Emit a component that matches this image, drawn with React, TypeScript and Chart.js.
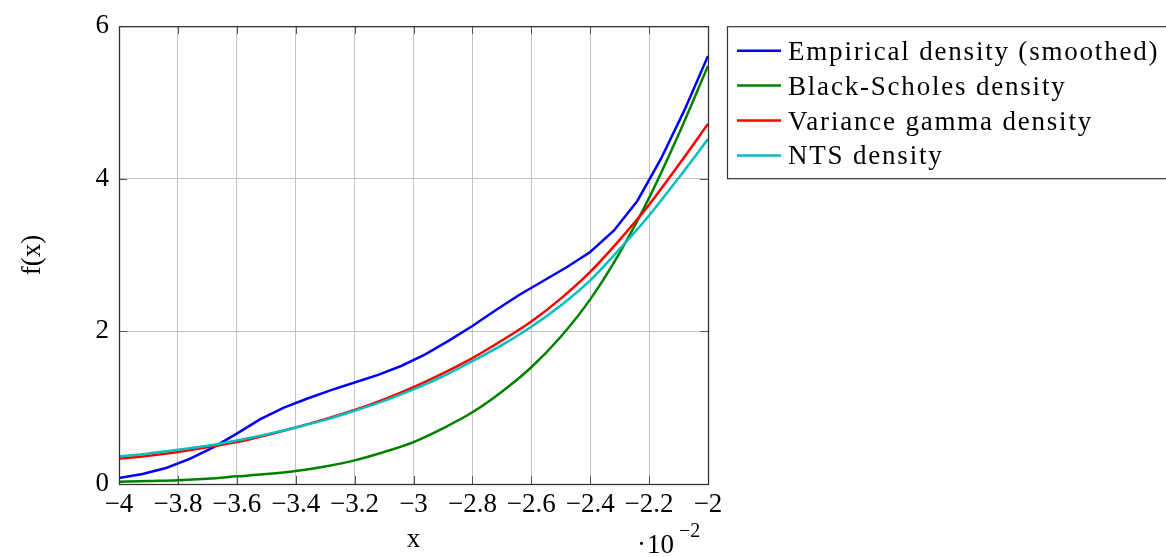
import React, { useEffect, useRef } from "react";
import { Chart, registerables } from "chart.js";

Chart.register(...registerables);

// x values are in units of 10^-2
const empiricalX = [
  -4.0, -3.92, -3.84, -3.76, -3.68, -3.6, -3.52, -3.44, -3.36, -3.28, -3.2, -3.12, -3.04,
  -2.96, -2.88, -2.8, -2.72, -2.64, -2.56, -2.48, -2.4, -2.32, -2.24, -2.16, -2.08, -2.0,
];
const empiricalY = [
  0.08, 0.13, 0.21, 0.33, 0.48, 0.66, 0.85, 1.0, 1.12, 1.23, 1.33, 1.43, 1.55,
  1.7, 1.88, 2.07, 2.28, 2.48, 2.66, 2.84, 3.04, 3.32, 3.71, 4.26, 4.9, 5.61,
];

const modelX = [
  -4.0, -3.9, -3.8, -3.7, -3.6, -3.5, -3.4, -3.3, -3.2, -3.1, -3.0,
  -2.9, -2.8, -2.7, -2.6, -2.5, -2.4, -2.3, -2.2, -2.1, -2.0,
];
const blackScholesY = [
  0.03, 0.04, 0.05, 0.07, 0.1, 0.13, 0.17, 0.23, 0.31, 0.42, 0.55,
  0.73, 0.94, 1.21, 1.53, 1.93, 2.42, 3.03, 3.75, 4.58, 5.48,
];
const varianceGammaY = [
  0.33, 0.37, 0.42, 0.48, 0.55, 0.64, 0.74, 0.85, 0.97, 1.11, 1.27,
  1.45, 1.65, 1.88, 2.13, 2.43, 2.78, 3.2, 3.66, 4.18, 4.72,
];
const ntsY = [
  0.36, 0.4, 0.45, 0.5, 0.57, 0.65, 0.74, 0.84, 0.96, 1.09, 1.24,
  1.41, 1.61, 1.82, 2.06, 2.34, 2.67, 3.08, 3.52, 4.01, 4.52,
];

const seriesLabels = [
  "Empirical density (smoothed)",
  "Black-Scholes density",
  "Variance gamma density",
  "NTS density",
];
const seriesColors = ["#0000ff", "#008000", "#ff0000", "#00bfbf"];

const xTicks = [-4, -3.8, -3.6, -3.4, -3.2, -3, -2.8, -2.6, -2.4, -2.2, -2];
const xTickLabels = ["−4", "−3.8", "−3.6", "−3.4", "−3.2", "−3", "−2.8", "−2.6", "−2.4", "−2.2", "−2"];
const yTicks = [0, 2, 4, 6];
const yTickLabels = ["0", "2", "4", "6"];

const serif = "'Liberation Serif', 'Times New Roman', serif";

const toPoints = (xs: number[], ys: number[]) => xs.map((x, i) => ({ x, y: ys[i] }));

const framePlugin = {
  id: "frame",
  beforeDatasetsDraw(chart: any) {
    const { ctx, chartArea: a, scales } = chart;
    ctx.save();
    ctx.strokeStyle = "#555";
    ctx.lineWidth = 1;
    const tl = 8;
    ctx.beginPath();
    for (const v of xTicks) {
      const px = Math.round(scales.x.getPixelForValue(v)) + 0.5;
      ctx.moveTo(px, a.bottom);
      ctx.lineTo(px, a.bottom - tl);
      ctx.moveTo(px, a.top);
      ctx.lineTo(px, a.top + tl);
    }
    for (const v of yTicks) {
      const py = Math.round(scales.y.getPixelForValue(v)) + 0.5;
      ctx.moveTo(a.left, py);
      ctx.lineTo(a.left + tl, py);
      ctx.moveTo(a.right, py);
      ctx.lineTo(a.right - tl, py);
    }
    ctx.stroke();
    ctx.restore();
  },
  afterDatasetsDraw(chart: any) {
    const { ctx, chartArea: a } = chart;
    ctx.save();
    ctx.strokeStyle = "#333";
    ctx.lineWidth = 1.3;
    ctx.strokeRect(a.left + 0.5, a.top + 0.5, a.right - a.left, a.bottom - a.top);
    ctx.restore();
  },
  afterDraw(chart: any) {
    const { ctx, chartArea: a } = chart;
    ctx.save();

    // legend box outside the plot on the right
    const boxLeft = a.right + 19;
    const boxTop = a.top;
    ctx.strokeStyle = "#333";
    ctx.lineWidth = 1.2;
    ctx.strokeRect(boxLeft + 0.5, boxTop + 0.5, 460, 152);
    ctx.font = `27px ${serif}`;
    ctx.textBaseline = "alphabetic";
    ctx.textAlign = "left";
    (ctx as any).letterSpacing = "1.8px";
    chart.data.datasets.forEach((ds: any, i: number) => {
      const cy = boxTop + 24.5 + i * 34.9;
      ctx.strokeStyle = ds.borderColor;
      ctx.lineWidth = 2.5;
      ctx.beginPath();
      ctx.moveTo(boxLeft + 10, cy);
      ctx.lineTo(boxLeft + 54, cy);
      ctx.stroke();
      ctx.fillStyle = "#000";
      ctx.fillText(ds.label, boxLeft + 61, cy + 9);
    });
    (ctx as any).letterSpacing = "0px";

    // axis multiplier below the x axis
    ctx.fillStyle = "#000";
    ctx.font = `27px ${serif}`;
    ctx.fillText("·", 637, 553);
    ctx.fillText("10", 647, 553);
    ctx.font = `20px ${serif}`;
    ctx.fillText("−2", 679, 537);
    ctx.restore();
  },
};

export default function App() {
  const canvasRef = useRef<HTMLCanvasElement>(null);

  useEffect(() => {
    const canvas = canvasRef.current;
    if (!canvas) return;
    const ys = [empiricalY, blackScholesY, varianceGammaY, ntsY];
    const xs = [empiricalX, modelX, modelX, modelX];
    const chart = new Chart(canvas, {
      type: "line",
      data: {
        datasets: seriesLabels.map((label, i) => ({
          label,
          data: toPoints(xs[i], ys[i]),
          borderColor: seriesColors[i],
          backgroundColor: seriesColors[i],
          borderWidth: 2.5,
          pointRadius: 0,
          fill: false,
          tension: i === 0 ? 0 : 0.4,
          cubicInterpolationMode: i === 0 ? "default" : "monotone",
          order: 3 - i,
        })),
      },
      options: {
        responsive: false,
        animation: false,
        devicePixelRatio: 1,
        layout: { padding: { top: 25, right: 458, left: 0, bottom: 0 } },
        plugins: {
          legend: { display: false },
          tooltip: { enabled: false },
        },
        scales: {
          x: {
            type: "linear",
            min: -4,
            max: -2,
            afterBuildTicks: (s: any) => {
              s.ticks = xTicks.map((v) => ({ value: v }));
            },
            afterFit: (s: any) => {
              s.height = 73;
            },
            ticks: {
              autoSkip: false,
              maxRotation: 0,
              minRotation: 0,
              padding: 5,
              color: "#000",
              font: { family: serif, size: 27 },
              callback: (_v: any, i: number) => xTickLabels[i],
            },
            grid: { color: "#c4c4c4", lineWidth: 1, drawTicks: false },
            border: { display: false },
            title: {
              display: true,
              text: "x",
              color: "#000",
              font: { family: serif, size: 27 },
              padding: { top: 0, bottom: 1 },
            },
          },
          y: {
            type: "linear",
            min: 0,
            max: 6,
            afterBuildTicks: (s: any) => {
              s.ticks = yTicks.map((v) => ({ value: v }));
            },
            afterFit: (s: any) => {
              s.width = 119;
            },
            ticks: {
              padding: 10,
              color: "#000",
              font: { family: serif, size: 27 },
              callback: (_v: any, i: number) => yTickLabels[i],
            },
            grid: { color: "#c4c4c4", lineWidth: 1, drawTicks: false },
            border: { display: false },
            title: {
              display: true,
              text: "f(x)",
              color: "#000",
              font: { family: serif, size: 27 },
              padding: { top: 17, bottom: 0 },
            },
          },
        },
      },
      plugins: [framePlugin],
    } as any);
    return () => chart.destroy();
  }, []);

  return (
    <div style={{ position: "fixed", left: 0, top: 0, width: 1166, height: 557, background: "#fff" }}>
      <canvas ref={canvasRef} width={1166} height={557} style={{ display: "block" }} />
    </div>
  );
}
